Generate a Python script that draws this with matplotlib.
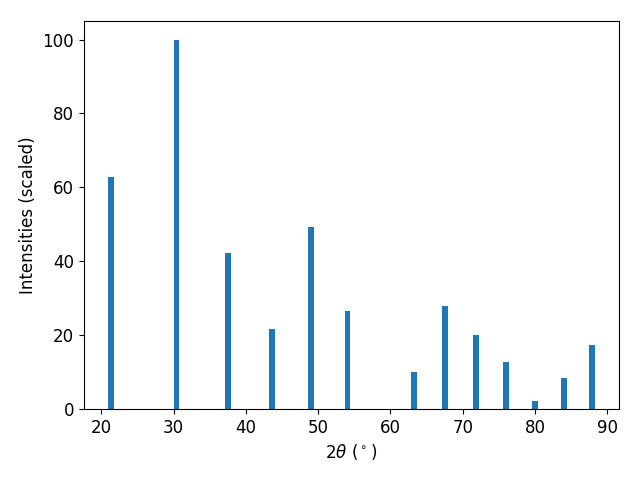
import matplotlib
matplotlib.use("Agg")
import matplotlib.pyplot as plt

# peak positions (2theta, degrees) and scaled intensities
two_theta = [21.34, 30.41, 37.48, 43.56, 49.01, 54.06, 63.24,
             67.57, 71.81, 75.95, 80.0, 83.97, 87.84]
intensity = [62.9, 100.0, 42.3, 21.7, 49.3, 26.6, 10.0,
             27.9, 20.05, 12.7, 2.2, 8.4, 17.3]

plt.rcParams["font.size"] = 12

fig, ax = plt.subplots(figsize=(6.4, 4.8), dpi=100)
ax.bar(two_theta, intensity, width=0.8, color="#1f77b4")
ax.set_xlabel(r"$2\theta$ ($^\circ$)")
ax.set_ylabel("Intensities (scaled)")
fig.subplots_adjust(left=0.131, right=0.967, top=0.956, bottom=0.148)
fig.savefig("out.png")
